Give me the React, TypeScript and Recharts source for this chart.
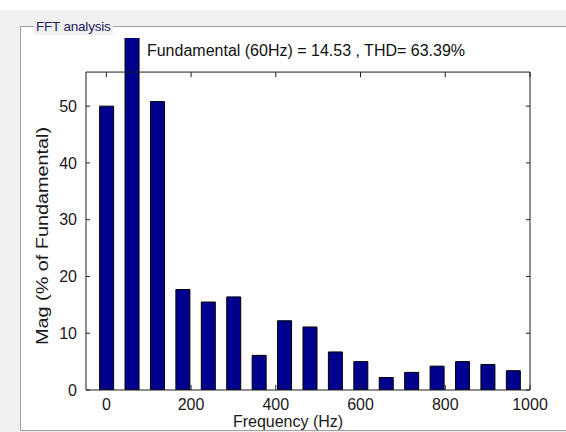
import React from 'react';
import { ComposedChart, Bar, XAxis, YAxis, ReferenceLine } from 'recharts';

// harmonic frequencies (Hz) and magnitudes (% of fundamental)
const FREQS = [0, 60, 120, 180, 240, 300, 360, 420, 480, 540, 600, 660, 720, 780, 840, 900, 960];
const MAGS = [50, 100, 50.8, 17.7, 15.5, 16.4, 6.1, 12.2, 11.1, 6.7, 5.0, 2.2, 3.1, 4.2, 5.0, 4.5, 3.4];

const X_TICKS = [0, 200, 400, 600, 800, 1000];
const Y_TICKS = [0, 10, 20, 30, 40, 50];

const X_LIMITS = [-48, 1000];
const Y_BOX_TOP = 56; // top of the axes box
const Y_CLIP_TOP = 62; // fundamental bar is cut here

const TITLE = 'Fundamental (60Hz) = 14.53 , THD= 63.39%';
const PANEL_TITLE = 'FFT analysis';

const data = FREQS.map((f, i) => ({ freq: f, mag: MAGS[i] }));

const AXIS_COLOR = '#1e1e1e';
const X_TICK_LEN = 0.9; // in y units (inward)
const Y_TICK_LEN = 9.5; // in Hz (inward)

const font = "'Liberation Sans', Arial, sans-serif";

export default function App() {
  const [xMin, xMax] = X_LIMITS;
  return (
    <div style={{ position: 'absolute', left: 0, top: 0, width: 566, height: 432, background: '#fff', overflow: 'hidden', fontFamily: font }}>
      <div style={{ position: 'absolute', left: 0, top: 10, width: 566, height: 422, background: '#f0f0f0' }} />
      <div style={{ position: 'absolute', left: 20, top: 26, width: 546, height: 403, background: '#fff', borderLeft: '1px solid #a0a0a0', borderTop: '1px solid #a0a0a0', borderBottom: '1px solid #a0a0a0' }} />
      <div style={{ position: 'absolute', left: 34, top: 18, fontSize: 13.5, lineHeight: '17px', color: '#1c2260', background: '#f0f0f0', padding: '0 2px', letterSpacing: -0.2 }}>
        {PANEL_TITLE}
      </div>

      <div style={{ position: 'absolute', left: 0, top: 0 }}>
        <ComposedChart width={566} height={432} data={data} margin={{ top: 38, right: 36, bottom: 0, left: 26 }}>
          <XAxis
            dataKey="freq"
            type="number"
            domain={X_LIMITS}
            allowDataOverflow
            ticks={X_TICKS}
            height={42}
            tickLine={false}
            tickSize={0}
            tickMargin={9}
            axisLine={{ stroke: AXIS_COLOR }}
            tick={{ fill: '#1a1a1a', fontSize: 16, fontFamily: font }}
            label={{ value: 'Frequency (Hz)', position: 'insideBottom', offset: 5, dx: -20, fill: '#1a1a1a', fontSize: 16, fontFamily: font }}
          />
          <YAxis
            type="number"
            domain={[0, Y_CLIP_TOP]}
            allowDataOverflow
            ticks={Y_TICKS}
            width={60}
            axisLine={false}
            tickLine={false}
            tickSize={0}
            tickMargin={9}
            tick={{ fill: '#1a1a1a', fontSize: 16, fontFamily: font }}
            label={{ value: 'Mag (% of Fundamental)', angle: -90, position: 'center', dx: -14, dy: 22, fill: '#1a1a1a', fontSize: 16, fontFamily: font, textLength: 218, lengthAdjust: 'spacingAndGlyphs' }}
          />
          <Bar dataKey="mag" barSize={14} fill="#00008f" stroke="#000" strokeWidth={1} isAnimationActive={false} />

          {/* axes box */}
          <ReferenceLine segment={[{ x: xMin, y: 0 }, { x: xMin, y: Y_BOX_TOP }]} stroke={AXIS_COLOR} ifOverflow="visible" />
          <ReferenceLine segment={[{ x: xMax, y: 0 }, { x: xMax, y: Y_BOX_TOP }]} stroke={AXIS_COLOR} ifOverflow="visible" />
          <ReferenceLine segment={[{ x: xMin, y: Y_BOX_TOP }, { x: xMax, y: Y_BOX_TOP }]} stroke={AXIS_COLOR} ifOverflow="visible" />

          {/* inward ticks */}
          {X_TICKS.map((t) => (
            <ReferenceLine key={'xb' + t} segment={[{ x: t, y: 0 }, { x: t, y: X_TICK_LEN }]} stroke={AXIS_COLOR} ifOverflow="visible" />
          ))}
          {X_TICKS.map((t) => (
            <ReferenceLine key={'xt' + t} segment={[{ x: t, y: Y_BOX_TOP }, { x: t, y: Y_BOX_TOP - X_TICK_LEN }]} stroke={AXIS_COLOR} ifOverflow="visible" />
          ))}
          {Y_TICKS.map((t) => (
            <ReferenceLine key={'yl' + t} segment={[{ x: xMin, y: t }, { x: xMin + Y_TICK_LEN, y: t }]} stroke={AXIS_COLOR} ifOverflow="visible" />
          ))}
          {Y_TICKS.map((t) => (
            <ReferenceLine key={'yr' + t} segment={[{ x: xMax, y: t }, { x: xMax - Y_TICK_LEN, y: t }]} stroke={AXIS_COLOR} ifOverflow="visible" />
          ))}
        </ComposedChart>
      </div>

      <div style={{ position: 'absolute', left: 106, top: 42, width: 400, textAlign: 'center', fontSize: 16, lineHeight: '18px', color: '#111' }}>
        {TITLE}
      </div>
    </div>
  );
}
